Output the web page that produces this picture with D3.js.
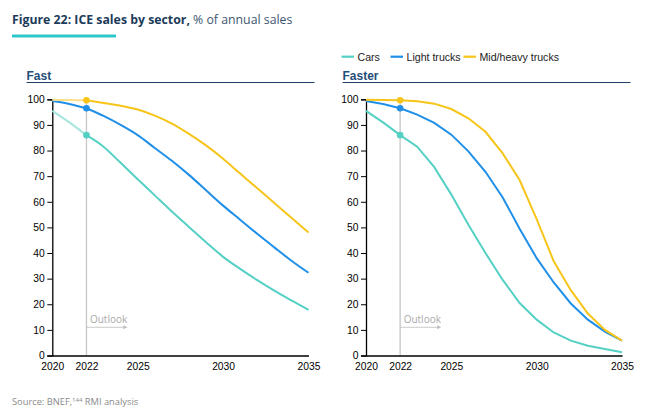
<!DOCTYPE html>
<html><head><meta charset="utf-8">
<script src="https://cdn.jsdelivr.net/npm/d3@7"></script>
<style>
body{margin:0;background:#fff;}
svg{display:block;}
</style></head>
<body>
<svg id="c" width="661" height="414"></svg>
<script>
const years = [2020,2021,2022,2023,2024,2025,2026,2027,2028,2029,2030,2031,2032,2033,2034,2035];
const xTickYears = [2020,2022,2025,2030,2035];
const yTicks = [0,10,20,30,40,50,60,70,80,90,100];
const seriesNames = ["Cars","Light trucks","Mid/heavy trucks"];
const seriesColors = ["#55d0c4","#1f8fe8","#f7c51a"];
const histColors = ["#a6e6de","#1f8fe8","#fbe08a"];

const fastCars   = [95.5,91,86,81.5,75.2,68.8,62.5,56.2,50.2,44.2,38.5,33.8,29.4,25.3,21.5,17.8];
const fastLight  = [99.3,98.2,96.5,93.5,90,86,81,76,70.5,64.5,58.5,53,47.5,42.2,37,32.3];
const fastHeavy  = [99.8,99.7,99.6,98.6,97.5,96,93.6,90.5,86.5,82,76.8,71,65.3,59.5,53.8,48];
const fasterCars  = [95.5,91,86,81.5,73.5,62.8,51,40,29.6,20.5,14,9,5.8,3.8,2.5,1.3];
const fasterLight = [99.3,98.2,96.5,94,90.8,86.2,79.7,71.7,61.8,49.5,38,28.5,20.3,14,9.3,5.8];
const fasterHeavy = [99.8,99.7,99.6,99.2,98.3,96.2,92.6,87.3,79,68.5,53.2,36.8,25.5,16.4,10,5.8];

const svg = d3.select("#c");
const FONT = "Liberation Sans, Arial, sans-serif";
const OS = "Open Sans, sans-serif";

// Title
const t = svg.append("text").attr("x",12).attr("y",24).attr("font-family",OS).attr("font-size",12.3).attr("fill","#1c3b5a");
t.append("tspan").attr("font-weight","bold").text("Figure 22: ICE sales by sector,");
t.append("tspan").attr("fill","#3d5670").text(" % of annual sales");
svg.append("rect").attr("x",12).attr("y",34.5).attr("width",104).attr("height",3).attr("fill","#2ec8cc");

// Legend
const legX = [341.5,390.5,463.5];
seriesNames.forEach((n,i)=>{
  svg.append("line").attr("x1",legX[i]).attr("x2",legX[i]+12.5).attr("y1",56.7).attr("y2",56.7)
    .attr("stroke",seriesColors[i]).attr("stroke-width",2.2);
  svg.append("text").attr("x",legX[i]+16).attr("y",60.5).attr("font-family",FONT).attr("font-size",10.6)
    .attr("fill","#222").text(n);
});

// Source
const s = svg.append("text").attr("x",12).attr("y",405).attr("font-family",OS).attr("font-size",9.3).attr("fill","#8a8a8a");
s.append("tspan").text("Source: BNEF,");
s.append("tspan").attr("font-size",6).attr("dy",-3.5).text("144");
s.append("tspan").attr("dy",3.5).text(" RMI analysis");

const y = d3.scaleLinear().domain([0,100]).range([355.5,99.3]);

function panel(title, x0, x1, tx, data, histLight, curve){
  const x = d3.scaleLinear().domain([2020,2035]).range([x0,x1]);
  svg.append("text").attr("x",tx).attr("y",80).attr("font-family",FONT).attr("font-weight","bold")
    .attr("font-size",12).attr("fill","#1f4e79").text(title);
  svg.append("line").attr("x1",tx).attr("x2",tx+288).attr("y1",82.5).attr("y2",82.5)
    .attr("stroke","#1f3f66").attr("stroke-width",1.2);
  svg.append("line").attr("x1",x(2022)).attr("x2",x(2022)).attr("y1",y(100)).attr("y2",y(0))
    .attr("stroke","#c6c6c6").attr("stroke-width",1.3);
  svg.append("text").attr("x",x(2022)+3.5).attr("y",323).attr("font-family",OS).attr("font-size",10)
    .attr("fill","#a9a9a9").text("Outlook");
  svg.append("line").attr("x1",x(2022)).attr("x2",x(2022)+38).attr("y1",327.3).attr("y2",327.3)
    .attr("stroke","#bdbdbd").attr("stroke-width",0.8);
  svg.append("path").attr("d",`M${x(2022)+41},327.3 l-4,-2 l0,4 z`).attr("fill","#bdbdbd");

  const ya = svg.append("g").attr("transform",`translate(${x0},0)`)
    .call(d3.axisLeft(y).tickValues(yTicks).tickSize(5).tickPadding(2.5));
  ya.select(".domain").attr("stroke","#000").attr("stroke-width",1.3);
  ya.selectAll(".tick line").attr("stroke","#000");
  ya.selectAll("text").attr("font-family",FONT).attr("font-size",10.3).attr("fill","#000");
  const xa = svg.append("g").attr("transform",`translate(0,${y(0)})`)
    .call(d3.axisBottom(x).tickValues(xTickYears).tickFormat(d3.format("d")).tickSize(0).tickPadding(7));
  xa.select(".domain").attr("stroke","#000").attr("stroke-width",1.5);
  xa.selectAll("text").attr("font-family",FONT).attr("font-size",10.3).attr("fill","#000");

  const lineH = d3.line().x(d=>x(d[0])).y(d=>y(d[1])).curve(curve);
  data.forEach((vals,i)=>{
    const hist = years.slice(0,3).map((yr,j)=>[yr,vals[j]]);
    const fut = years.slice(2).map((yr,j)=>[yr,vals[j+2]]);
    svg.append("path").attr("d",lineH(hist)).attr("fill","none")
      .attr("stroke",histLight?histColors[i]:seriesColors[i]).attr("stroke-width",2);
    svg.append("path").attr("d",lineH(fut)).attr("fill","none")
      .attr("stroke",seriesColors[i]).attr("stroke-width",2);
  });
  data.forEach((vals,i)=>{
    svg.append("circle").attr("cx",x(2022)).attr("cy",y(vals[2])).attr("r",3.3).attr("fill",seriesColors[i]);
  });
}

panel("Fast",52.3,308.5,26.5,[fastCars,fastLight,fastHeavy],true,d3.curveMonotoneX);
panel("Faster",366,622,342.5,[fasterCars,fasterLight,fasterHeavy],false,d3.curveLinear);
</script>
</body></html>
